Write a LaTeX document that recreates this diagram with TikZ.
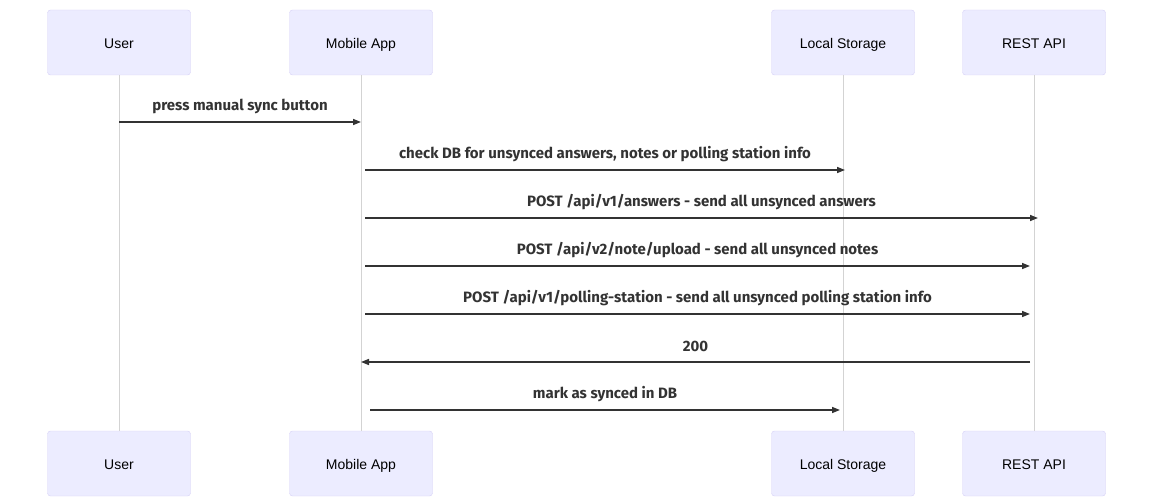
\documentclass[tikz,border=0pt]{standalone}
\usepackage{fontspec}
\usepackage{xcolor}
\setmainfont{Liberation Sans}
\newfontfamily\msgfont{Fira Sans}
\usepackage{tikz}
\usetikzlibrary{arrows.meta}
\definecolor{actorfill}{HTML}{ECECFF}
\definecolor{actorline}{HTML}{D6D1F6}
\definecolor{lifeline}{HTML}{D3D3D3}
\definecolor{msgline}{HTML}{333333}

\begin{document}
\begin{tikzpicture}[x=1pt,y=-1pt,
    actor/.style={draw=actorline,fill=actorfill,rounded corners=3pt,
        minimum width=143pt,minimum height=65pt,inner sep=0pt,
        text height=12pt,text depth=0pt,
        font=\fontsize{14}{16}\selectfont},
    msg/.style={draw=msgline,line width=1.5pt,-{Triangle[length=8pt,width=6pt]}},
    msglabel/.style={font=\msgfont\bfseries\fontsize{15}{18}\selectfont,
        text=msgline,midway,yshift=16pt}]
                \useasboundingbox (0,0) rectangle (1153,497);
                % actors, top and bottom
                \node[actor] (user)   at (119,42.5) {User};
                \node[actor] (app)    at (361,42.5) {Mobile App};
                \node[actor] (store)  at (843,42.5) {Local Storage};
                \node[actor] (api)    at (1034,42.5) {REST API};
                \node[actor] (userb)  at (119,463.5) {User};
                \node[actor] (appb)   at (361,463.5) {Mobile App};
                \node[actor] (storeb) at (843,463.5) {Local Storage};
                \node[actor] (apib)   at (1034,463.5) {REST API};
                % lifelines
                \draw[lifeline] (user.south) -- (userb.north);
                \draw[lifeline] (app.south) -- (appb.north);
                \draw[lifeline] (store.south) -- (storeb.north);
                \draw[lifeline] (api.south) -- (apib.north);
                % messages
                \draw[msg] (user.south |- 0,122) -- (app.south |- 0,122)
                    node[msglabel]{press manual sync button};
                \draw[msg] ([xshift=4pt]app.south |- 0,170) -- ([xshift=2pt]store.south |- 0,170)
                    node[msglabel]{check DB for unsynced answers, notes or polling station info};
                \draw[msg] ([xshift=4pt]app.south |- 0,218) -- ([xshift=4pt]api.south |- 0,218)
                    node[msglabel]{POST /api/v1/answers - send all unsynced answers};
                \draw[msg] ([xshift=4pt]app.south |- 0,266) -- ([xshift=-4pt]api.south |- 0,266)
                    node[msglabel]{POST /api/v2/note/upload - send all unsynced notes};
                \draw[msg] ([xshift=4pt]app.south |- 0,314) -- ([xshift=-4pt]api.south |- 0,314)
                    node[msglabel]{POST /api/v1/polling-station - send all unsynced polling station info};
                \draw[msg] ([xshift=-4pt]api.south |- 0,362) -- (app.south |- 0,362)
                    node[msglabel]{200};
                \draw[msg] ([xshift=9pt]app.south |- 0,410) -- ([xshift=-3pt]store.south |- 0,410)
                    node[msglabel]{mark as synced in DB};
            \end{tikzpicture}
\end{document}
